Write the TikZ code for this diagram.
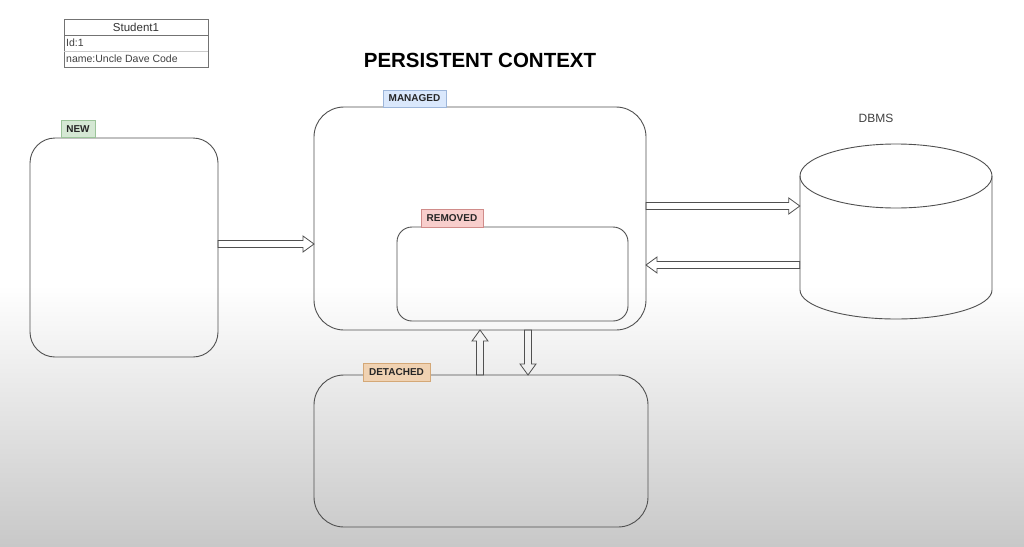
\documentclass[tikz,border=0pt]{standalone}
\usepackage{fontspec}
\setmainfont{Liberation Sans}
\usetikzlibrary{calc}
\definecolor{edge}{HTML}{505050}
\definecolor{bggrey}{HTML}{C8C8C8}
\definecolor{newfill}{HTML}{D5E8D4}\definecolor{newdraw}{HTML}{9CC49A}
\definecolor{manfill}{HTML}{DAE8FC}\definecolor{mandraw}{HTML}{9DB6DA}
\definecolor{remfill}{HTML}{F8CECC}\definecolor{remdraw}{HTML}{D08C8A}
\definecolor{detfill}{HTML}{F0D2B2}\definecolor{detdraw}{HTML}{D4A877}
\newcommand\flexarr[2]{%
  \draw[flexarrow] let \p1=(#1), \p2=(#2),
    \n1={atan2(\y2-\y1,\x2-\x1)}, \n2={veclen(\x2-\x1,\y2-\y1)-11} in
    ($(\p1)+(\n1+90:3.5pt)$) -- ++(\n1:\n2) -- ++(\n1+90:4.5pt) -- (\p2)
    -- ($(\p2)+(\n1:-11pt)+(\n1-90:8pt)$) -- ++(\n1+90:4.5pt)
    -- ($(\p1)+(\n1-90:3.5pt)$) -- cycle;}
\tikzset{
  state/.style={draw=edge, line width=0.9pt, inner sep=0pt, outer sep=0pt},
  tag/.style={line width=0.7pt, inner sep=0pt, outer sep=0pt, minimum height=17pt,
    font=\bfseries\fontsize{10}{12}\selectfont, text=black!85},
  flexarrow/.style={draw=edge, line width=0.8pt, line join=miter},
  rowtext/.style={anchor=west, inner sep=0pt, font=\fontsize{10.5}{12}\selectfont, text=black!75},
}
\begin{document}
\begin{tikzpicture}[x=1pt,y=-1pt]
\useasboundingbox (0,0) rectangle (1024,546);
\fill[white] (0,0) rectangle (1024,546);
\shade[top color=white, bottom color=bggrey] (0,285) rectangle (1024,546);

% Student1 entity
\node[draw=edge!80, line width=0.7pt, minimum width=144pt, minimum height=48pt, inner sep=0pt, anchor=north west] (student) at (64,19) {};
\draw[edge!80, line width=0.7pt] (64,35) -- (208,35);
\draw[edge!30, line width=0.5pt] (64,51) -- (208,51);
\node[inner sep=0pt, font=\fontsize{11.5}{13}\selectfont, text=black!80] (stname) at (136,27) {Student1};
\node[rowtext] (stid) at (66,43) {Id:1};
\node[rowtext] (stnm) at (66,59) {name:Uncle Dave Code};

% title
\node[font=\bfseries\fontsize{20.5}{24}\selectfont] (title) at (480,60) {PERSISTENT CONTEXT};

% state boxes
\node[state, rounded corners=25pt, minimum width=188pt, minimum height=219pt] (new) at (124,247.5) {};
\node[state, rounded corners=30pt, minimum width=332pt, minimum height=223pt] (managed) at (480,218.5) {};
\node[state, rounded corners=15pt, minimum width=231pt, minimum height=94pt] (removed) at (512.5,274) {};
\node[state, rounded corners=30pt, minimum width=334pt, minimum height=152pt] (detached) at (481,451) {};

% cylinder
\node[inner sep=0pt, minimum width=192pt, minimum height=176pt] (db) at (896,232) {};
\draw[edge, line width=0.9pt] (800,176) -- (800,290) arc[start angle=180, end angle=0, x radius=96, y radius=29] -- (992,176);
\draw[edge, line width=0.9pt] (896,176) ellipse [x radius=96, y radius=32];
\node[font=\fontsize{12}{14}\selectfont, text=black!75] (dbms) at (876,118) {DBMS};

% tags
\node[tag, fill=newfill, draw=newdraw, minimum width=34pt] (newtag) at (78,129) {NEW};
\node[tag, fill=manfill, draw=mandraw, minimum width=63pt] (mantag) at (414.5,98.5) {MANAGED};
\node[tag, fill=remfill, draw=remdraw, minimum width=62pt, minimum height=18pt] (remtag) at (452,218) {REMOVED};
\node[tag, fill=detfill, draw=detdraw, minimum width=67pt, minimum height=18pt] (dettag) at (396.5,372) {DETACHED};

% connectors
\coordinate (yA) at (0,244);
\coordinate (yB) at (0,206);
\coordinate (yC) at (0,265);
\coordinate (xD) at (528,0);
\flexarr{new.east |- yA}{managed.west |- yA}
\flexarr{managed.east |- yB}{db.west |- yB}
\flexarr{db.west |- yC}{managed.east |- yC}
\flexarr{managed.south |- detached.north}{managed.south}
\flexarr{managed.south -| xD}{detached.north -| xD}
\end{tikzpicture}
\end{document}
